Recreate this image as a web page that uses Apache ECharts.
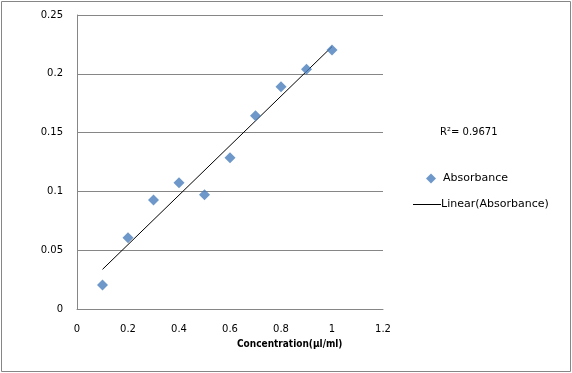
<!DOCTYPE html>
<html><head><meta charset="utf-8">
<script src="https://cdn.jsdelivr.net/npm/echarts@6/dist/echarts.min.js"></script>
<style>html,body{margin:0;padding:0;background:#fff}#c{width:572px;height:373px}</style>
</head><body><div id="c"></div>
<script>
var concentration = [0.1, 0.2, 0.3, 0.4, 0.5, 0.6, 0.7, 0.8, 0.9, 1.0];
var absorbance = [0.0204, 0.0606, 0.0927, 0.1074, 0.0972, 0.1287, 0.1644, 0.189, 0.2038, 0.2202];
var trendX = [0.1, 1.0];
var trendY = [0.0337, 0.2231];
var rSquared = "0.9671";
var xTicks = [0, 0.2, 0.4, 0.6, 0.8, 1, 1.2];
var yTicks = [0, 0.05, 0.1, 0.15, 0.2, 0.25];

var FONT = "DejaVu Sans";
var chart = echarts.init(document.getElementById('c'));
chart.setOption({
  animation: false,
  backgroundColor: '#fff',
  grid: {left: 77, right: 189, top: 15, bottom: 64},
  xAxis: {
    type: 'value', min: xTicks[0], max: xTicks[xTicks.length-1], interval: 0.2,
    axisLine: {show: true, lineStyle: {color: '#868686', width: 1}},
    axisTick: {show: false},
    splitLine: {show: false},
    axisLabel: {color: '#000', fontFamily: FONT, fontSize: 10, margin: 15,
      formatter: function(v){ return String(+v.toFixed(2)); }}
  },
  yAxis: {
    type: 'value', min: yTicks[0], max: yTicks[yTicks.length-1], interval: 0.05,
    axisLine: {show: true, lineStyle: {color: '#868686', width: 1}},
    axisTick: {show: false},
    splitLine: {show: true, lineStyle: {color: '#868686', width: 1}},
    axisLabel: {color: '#000', fontFamily: FONT, fontSize: 10, margin: 14,
      formatter: function(v){ return String(+v.toFixed(2)); }}
  },
  legend: [
    {data: [{name: 'Absorbance', icon: 'diamond'}], left: 421, top: 168, itemWidth: 10, itemHeight: 10, itemGap: 0,
     textStyle: {fontFamily: FONT, fontSize: 11, color: '#000', padding: [0,0,0,2]}},
    {data: [{name: 'Linear(Absorbance)', icon: 'rect'}], left: 408, top: 194, itemWidth: 28, itemHeight: 1,
     textStyle: {fontFamily: FONT, fontSize: 11, color: '#000', padding: [0,0,0,-5]}}
  ],
  graphic: [
    {type: 'rect', silent: true, shape: {x: 1.5, y: 1.5, width: 569, height: 370},
     style: {fill: null, stroke: '#868686', lineWidth: 1}},
    {type: 'text', left: 440, top: 127, style: {text: 'R\u00b2= ' + rSquared, font: '10px "DejaVu Sans"', fill: '#000'}},
    {type: 'text', left: 237, top: 339, style: {text: 'Concentration(\u00b5l/ml)', font: 'bold 10px "DejaVu Sans Condensed"', fill: '#000'}}
  ],
  series: [
    {name: 'Absorbance', type: 'scatter', symbol: 'diamond', symbolSize: 11,
     itemStyle: {color: '#4a7ebb'},
     data: concentration.map(function(x, i){ return [x, absorbance[i]]; }), z: 3},
    {name: 'Linear(Absorbance)', type: 'line', symbol: 'none',
     lineStyle: {color: '#000', width: 1}, itemStyle: {color: '#000'},
     data: trendX.map(function(x, i){ return [x, trendY[i]]; }), z: 2}
  ]
});
</script></body></html>
